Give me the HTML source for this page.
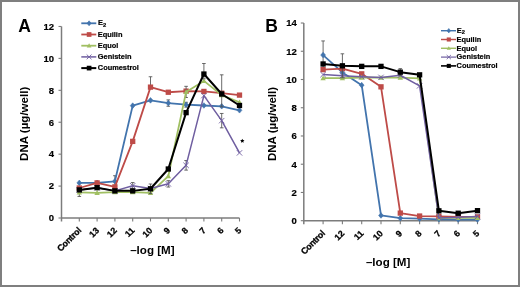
<!DOCTYPE html>
<html><head><meta charset="utf-8"><style>
html,body{margin:0;padding:0;background:#fff;}
body{width:520px;height:287px;overflow:hidden;position:relative;}
.frame{position:absolute;left:0;top:0;width:516px;height:283px;border:2px solid #7f7f7f;}
svg{position:absolute;left:0;top:0;filter:blur(0.3px);}
text{font-family:"Liberation Sans", sans-serif;font-weight:bold;fill:#000;}
.yt{font-size:9.5px;stroke:#000;stroke-width:0.2px;}
.xt{font-size:8.8px;stroke:#000;stroke-width:0.3px;}
.ctl{letter-spacing:-0.2px;}
.lg{font-size:7.4px;stroke:#000;stroke-width:0.2px;}
.pl{font-size:17.5px;}
.ax{font-size:12px;}
</style></head><body>
<div class="frame"></div>
<svg width="520" height="287" viewBox="0 0 520 287">
<text x="18.3" y="31.6" class="pl">A</text>
<text x="265.3" y="32.0" class="pl">B</text>
<text transform="translate(28.1 123.85) rotate(-90)" text-anchor="middle" class="ax" style="font-size:11.55px">DNA (µg/well)</text>
<text transform="translate(276.0 124.0) rotate(-90)" text-anchor="middle" class="ax" style="font-size:11.55px">DNA (µg/well)</text>
<text x="152.4" y="254.2" text-anchor="middle" class="ax" style="font-size:11.6px">–log [M]</text>
<text x="388.1" y="266.2" text-anchor="middle" class="ax" style="font-size:11.6px">–log [M]</text>
<path d="M242.30 138.70L242.95 140.11L244.49 140.29L243.35 141.34L243.65 142.86L242.30 142.10L240.95 142.86L241.25 141.34L240.11 140.29L241.65 140.11Z" fill="#000"/>
<path d="M61.50 26.48L61.50 221.50" stroke="#7c7c7c" stroke-width="1.5" fill="none"/>
<path d="M61.50 218.00L239.50 218.00" stroke="#7c7c7c" stroke-width="1.5" fill="none"/>
<path d="M58.50 218.00L61.50 218.00" stroke="#7c7c7c" stroke-width="1.1"/>
<text x="54.00" y="221.30" text-anchor="end" class="yt">0</text>
<path d="M58.50 186.08L61.50 186.08" stroke="#7c7c7c" stroke-width="1.1"/>
<text x="54.00" y="189.38" text-anchor="end" class="yt">2</text>
<path d="M58.50 154.16L61.50 154.16" stroke="#7c7c7c" stroke-width="1.1"/>
<text x="54.00" y="157.46" text-anchor="end" class="yt">4</text>
<path d="M58.50 122.24L61.50 122.24" stroke="#7c7c7c" stroke-width="1.1"/>
<text x="54.00" y="125.54" text-anchor="end" class="yt">6</text>
<path d="M58.50 90.32L61.50 90.32" stroke="#7c7c7c" stroke-width="1.1"/>
<text x="54.00" y="93.62" text-anchor="end" class="yt">8</text>
<path d="M58.50 58.40L61.50 58.40" stroke="#7c7c7c" stroke-width="1.1"/>
<text x="54.00" y="61.70" text-anchor="end" class="yt">10</text>
<path d="M58.50 26.48L61.50 26.48" stroke="#7c7c7c" stroke-width="1.1"/>
<text x="54.00" y="29.78" text-anchor="end" class="yt">12</text>
<path d="M79.30 218.00L79.30 221.50" stroke="#7c7c7c" stroke-width="1.1"/>
<path d="M97.10 218.00L97.10 221.50" stroke="#7c7c7c" stroke-width="1.1"/>
<path d="M114.90 218.00L114.90 221.50" stroke="#7c7c7c" stroke-width="1.1"/>
<path d="M132.70 218.00L132.70 221.50" stroke="#7c7c7c" stroke-width="1.1"/>
<path d="M150.50 218.00L150.50 221.50" stroke="#7c7c7c" stroke-width="1.1"/>
<path d="M168.30 218.00L168.30 221.50" stroke="#7c7c7c" stroke-width="1.1"/>
<path d="M186.10 218.00L186.10 221.50" stroke="#7c7c7c" stroke-width="1.1"/>
<path d="M203.90 218.00L203.90 221.50" stroke="#7c7c7c" stroke-width="1.1"/>
<path d="M221.70 218.00L221.70 221.50" stroke="#7c7c7c" stroke-width="1.1"/>
<path d="M239.50 218.00L239.50 221.50" stroke="#7c7c7c" stroke-width="1.1"/>
<text transform="translate(81.80 231.00) rotate(-45)" text-anchor="end" class="xt ctl">Control</text>
<text transform="translate(99.60 231.00) rotate(-45)" text-anchor="end" class="xt">13</text>
<text transform="translate(117.40 231.00) rotate(-45)" text-anchor="end" class="xt">12</text>
<text transform="translate(135.20 231.00) rotate(-45)" text-anchor="end" class="xt">11</text>
<text transform="translate(153.00 231.00) rotate(-45)" text-anchor="end" class="xt">10</text>
<text transform="translate(170.80 231.00) rotate(-45)" text-anchor="end" class="xt">9</text>
<text transform="translate(188.60 231.00) rotate(-45)" text-anchor="end" class="xt">8</text>
<text transform="translate(206.40 231.00) rotate(-45)" text-anchor="end" class="xt">7</text>
<text transform="translate(224.20 231.00) rotate(-45)" text-anchor="end" class="xt">6</text>
<text transform="translate(242.00 231.00) rotate(-45)" text-anchor="end" class="xt">5</text>
<path d="M114.90 175.71L114.90 186.88M113.10 175.71L116.70 175.71M113.10 186.88L116.70 186.88" stroke="#505050" stroke-width="0.85" fill="none"/>
<path d="M168.30 99.90L168.30 106.28M166.50 99.90L170.10 99.90M166.50 106.28L170.10 106.28" stroke="#505050" stroke-width="0.85" fill="none"/>
<path d="M186.10 102.29L186.10 107.08M184.30 102.29L187.90 102.29M184.30 107.08L187.90 107.08" stroke="#505050" stroke-width="0.85" fill="none"/>
<path d="M79.30 182.89L97.10 182.89L114.90 181.29L132.70 105.64L150.50 100.37L168.30 103.09L186.10 104.68L203.90 105.48L221.70 106.28L239.50 110.27" stroke="#4274ad" stroke-width="1.8" fill="none" stroke-linejoin="round"/>
<path d="M79.30 180.09L81.70 182.89L79.30 185.69L76.90 182.89Z" fill="#4274ad" stroke="#4274ad" stroke-width="0.6"/>
<path d="M97.10 180.09L99.50 182.89L97.10 185.69L94.70 182.89Z" fill="#4274ad" stroke="#4274ad" stroke-width="0.6"/>
<path d="M114.90 178.49L117.30 181.29L114.90 184.09L112.50 181.29Z" fill="#4274ad" stroke="#4274ad" stroke-width="0.6"/>
<path d="M132.70 102.84L135.10 105.64L132.70 108.44L130.30 105.64Z" fill="#4274ad" stroke="#4274ad" stroke-width="0.6"/>
<path d="M150.50 97.57L152.90 100.37L150.50 103.17L148.10 100.37Z" fill="#4274ad" stroke="#4274ad" stroke-width="0.6"/>
<path d="M168.30 100.29L170.70 103.09L168.30 105.89L165.90 103.09Z" fill="#4274ad" stroke="#4274ad" stroke-width="0.6"/>
<path d="M186.10 101.88L188.50 104.68L186.10 107.48L183.70 104.68Z" fill="#4274ad" stroke="#4274ad" stroke-width="0.6"/>
<path d="M203.90 102.68L206.30 105.48L203.90 108.28L201.50 105.48Z" fill="#4274ad" stroke="#4274ad" stroke-width="0.6"/>
<path d="M221.70 103.48L224.10 106.28L221.70 109.08L219.30 106.28Z" fill="#4274ad" stroke="#4274ad" stroke-width="0.6"/>
<path d="M239.50 107.47L241.90 110.27L239.50 113.07L237.10 110.27Z" fill="#4274ad" stroke="#4274ad" stroke-width="0.6"/>
<path d="M150.50 76.75L150.50 87.13M148.70 76.75L152.30 76.75" stroke="#505050" stroke-width="0.85" fill="none"/>
<path d="M79.30 188.00L97.10 182.89L114.90 186.88L132.70 141.39L150.50 87.13L168.30 92.24L186.10 91.12L203.90 91.44L221.70 93.19L239.50 95.11" stroke="#be4b48" stroke-width="1.8" fill="none" stroke-linejoin="round"/>
<rect x="76.65" y="185.35" width="5.30" height="5.30" fill="#be4b48"/>
<rect x="94.45" y="180.24" width="5.30" height="5.30" fill="#be4b48"/>
<rect x="112.25" y="184.23" width="5.30" height="5.30" fill="#be4b48"/>
<rect x="130.05" y="138.74" width="5.30" height="5.30" fill="#be4b48"/>
<rect x="147.85" y="84.48" width="5.30" height="5.30" fill="#be4b48"/>
<rect x="165.65" y="89.59" width="5.30" height="5.30" fill="#be4b48"/>
<rect x="183.45" y="88.47" width="5.30" height="5.30" fill="#be4b48"/>
<rect x="201.25" y="88.79" width="5.30" height="5.30" fill="#be4b48"/>
<rect x="219.05" y="90.54" width="5.30" height="5.30" fill="#be4b48"/>
<rect x="236.85" y="92.46" width="5.30" height="5.30" fill="#be4b48"/>
<path d="M79.30 188.47L79.30 196.45M77.50 188.47L81.10 188.47M77.50 196.45L81.10 196.45" stroke="#505050" stroke-width="0.85" fill="none"/>
<path d="M186.10 86.33L186.10 97.50M184.30 86.33L187.90 86.33M184.30 97.50L187.90 97.50" stroke="#505050" stroke-width="0.85" fill="none"/>
<path d="M79.30 192.46L97.10 192.78L114.90 192.14L132.70 192.14L150.50 192.94L168.30 176.18L186.10 91.92L203.90 80.90L221.70 95.11L239.50 102.29" stroke="#a0bf62" stroke-width="1.8" fill="none" stroke-linejoin="round"/>
<path d="M79.30 189.76L82.00 194.56L76.60 194.56Z" fill="#a0bf62"/>
<path d="M97.10 190.08L99.80 194.88L94.40 194.88Z" fill="#a0bf62"/>
<path d="M114.90 189.44L117.60 194.24L112.20 194.24Z" fill="#a0bf62"/>
<path d="M132.70 189.44L135.40 194.24L130.00 194.24Z" fill="#a0bf62"/>
<path d="M150.50 190.24L153.20 195.04L147.80 195.04Z" fill="#a0bf62"/>
<path d="M168.30 173.48L171.00 178.28L165.60 178.28Z" fill="#a0bf62"/>
<path d="M186.10 89.22L188.80 94.02L183.40 94.02Z" fill="#a0bf62"/>
<path d="M203.90 78.20L206.60 83.00L201.20 83.00Z" fill="#a0bf62"/>
<path d="M221.70 92.41L224.40 97.21L219.00 97.21Z" fill="#a0bf62"/>
<path d="M239.50 99.59L242.20 104.39L236.80 104.39Z" fill="#a0bf62"/>
<path d="M132.70 182.57L132.70 188.95M130.90 182.57L134.50 182.57M130.90 188.95L134.50 188.95" stroke="#505050" stroke-width="0.85" fill="none"/>
<path d="M168.30 180.65L168.30 187.04M166.50 180.65L170.10 180.65M166.50 187.04L170.10 187.04" stroke="#505050" stroke-width="0.85" fill="none"/>
<path d="M186.10 160.54L186.10 170.12M184.30 160.54L187.90 160.54M184.30 170.12L187.90 170.12" stroke="#505050" stroke-width="0.85" fill="none"/>
<path d="M221.70 113.46L221.70 127.83M219.90 113.46L223.50 113.46M219.90 127.83L223.50 127.83" stroke="#505050" stroke-width="0.85" fill="none"/>
<path d="M79.30 189.91L97.10 187.68L114.90 190.87L132.70 185.76L150.50 188.47L168.30 183.85L186.10 165.33L203.90 95.59L221.70 120.64L239.50 152.88" stroke="#6f5ea0" stroke-width="1.5" fill="none" stroke-linejoin="round"/>
<path d="M76.60 187.21L82.00 192.61M82.00 187.21L76.60 192.61" stroke="#6f5ea0" stroke-width="0.9" fill="none"/>
<path d="M94.40 184.98L99.80 190.38M99.80 184.98L94.40 190.38" stroke="#6f5ea0" stroke-width="0.9" fill="none"/>
<path d="M112.20 188.17L117.60 193.57M117.60 188.17L112.20 193.57" stroke="#6f5ea0" stroke-width="0.9" fill="none"/>
<path d="M130.00 183.06L135.40 188.46M135.40 183.06L130.00 188.46" stroke="#6f5ea0" stroke-width="0.9" fill="none"/>
<path d="M147.80 185.77L153.20 191.17M153.20 185.77L147.80 191.17" stroke="#6f5ea0" stroke-width="0.9" fill="none"/>
<path d="M165.60 181.15L171.00 186.55M171.00 181.15L165.60 186.55" stroke="#6f5ea0" stroke-width="0.9" fill="none"/>
<path d="M183.40 162.63L188.80 168.03M188.80 162.63L183.40 168.03" stroke="#6f5ea0" stroke-width="0.9" fill="none"/>
<path d="M201.20 92.89L206.60 98.29M206.60 92.89L201.20 98.29" stroke="#6f5ea0" stroke-width="0.9" fill="none"/>
<path d="M219.00 117.94L224.40 123.34M224.40 117.94L219.00 123.34" stroke="#6f5ea0" stroke-width="0.9" fill="none"/>
<path d="M236.80 150.18L242.20 155.58M242.20 150.18L236.80 155.58" stroke="#6f5ea0" stroke-width="0.9" fill="none"/>
<path d="M150.50 184.01L150.50 193.58M148.70 184.01L152.30 184.01M148.70 193.58L152.30 193.58" stroke="#505050" stroke-width="0.85" fill="none"/>
<path d="M203.90 63.51L203.90 78.83M202.10 63.51L205.70 63.51M202.10 78.83L205.70 78.83" stroke="#505050" stroke-width="0.85" fill="none"/>
<path d="M221.70 74.84L221.70 106.76M219.90 74.84L223.50 74.84M219.90 106.76L223.50 106.76" stroke="#505050" stroke-width="0.85" fill="none"/>
<path d="M79.30 189.91L97.10 187.68L114.90 190.87L132.70 190.87L150.50 188.79L168.30 169.00L186.10 112.66L203.90 74.04L221.70 93.99L239.50 105.48" stroke="#000000" stroke-width="2.0" fill="none" stroke-linejoin="round"/>
<rect x="76.65" y="187.26" width="5.30" height="5.30" fill="#000000"/>
<rect x="94.45" y="185.03" width="5.30" height="5.30" fill="#000000"/>
<rect x="112.25" y="188.22" width="5.30" height="5.30" fill="#000000"/>
<rect x="130.05" y="188.22" width="5.30" height="5.30" fill="#000000"/>
<rect x="147.85" y="186.14" width="5.30" height="5.30" fill="#000000"/>
<rect x="165.65" y="166.35" width="5.30" height="5.30" fill="#000000"/>
<rect x="183.45" y="110.01" width="5.30" height="5.30" fill="#000000"/>
<rect x="201.25" y="71.39" width="5.30" height="5.30" fill="#000000"/>
<rect x="219.05" y="91.34" width="5.30" height="5.30" fill="#000000"/>
<rect x="236.85" y="102.83" width="5.30" height="5.30" fill="#000000"/>
<path d="M81.30 23.30L96.30 23.30" stroke="#4274ad" stroke-width="1.80"/>
<path d="M89.10 20.80L91.20 23.30L89.10 25.80L87.00 23.30Z" fill="#4274ad" stroke="#4274ad" stroke-width="0.6"/>
<text x="98.00" y="25.40" class="lg">E<tspan font-size="5.8" dy="1.5">2</tspan></text>
<path d="M81.30 34.50L96.30 34.50" stroke="#be4b48" stroke-width="1.80"/>
<rect x="86.75" y="32.15" width="4.70" height="4.70" fill="#be4b48"/>
<text x="97.80" y="36.70" class="lg">Equilin</text>
<path d="M81.30 45.70L96.30 45.70" stroke="#a0bf62" stroke-width="1.80"/>
<path d="M89.10 43.30L91.50 47.50L86.70 47.50Z" fill="#a0bf62"/>
<text x="97.80" y="47.90" class="lg">Equol</text>
<path d="M81.30 56.90L96.30 56.90" stroke="#6f5ea0" stroke-width="1.50"/>
<path d="M86.70 54.50L91.50 59.30M91.50 54.50L86.70 59.30" stroke="#6f5ea0" stroke-width="0.9" fill="none"/>
<text x="97.80" y="59.10" class="lg">Genistein</text>
<path d="M81.30 68.10L96.30 68.10" stroke="#000000" stroke-width="2.00"/>
<rect x="86.75" y="65.75" width="4.70" height="4.70" fill="#000000"/>
<text x="97.80" y="70.30" class="lg">Coumestrol</text>
<path d="M303.80 23.02L303.80 224.20" stroke="#7c7c7c" stroke-width="1.5" fill="none"/>
<path d="M303.80 220.70L477.50 220.70" stroke="#7c7c7c" stroke-width="1.5" fill="none"/>
<path d="M300.80 220.70L303.80 220.70" stroke="#7c7c7c" stroke-width="1.1"/>
<text x="296.80" y="224.00" text-anchor="end" class="yt">0</text>
<path d="M300.80 192.46L303.80 192.46" stroke="#7c7c7c" stroke-width="1.1"/>
<text x="296.80" y="195.76" text-anchor="end" class="yt">2</text>
<path d="M300.80 164.22L303.80 164.22" stroke="#7c7c7c" stroke-width="1.1"/>
<text x="296.80" y="167.52" text-anchor="end" class="yt">4</text>
<path d="M300.80 135.98L303.80 135.98" stroke="#7c7c7c" stroke-width="1.1"/>
<text x="296.80" y="139.28" text-anchor="end" class="yt">6</text>
<path d="M300.80 107.74L303.80 107.74" stroke="#7c7c7c" stroke-width="1.1"/>
<text x="296.80" y="111.04" text-anchor="end" class="yt">8</text>
<path d="M300.80 79.50L303.80 79.50" stroke="#7c7c7c" stroke-width="1.1"/>
<text x="296.80" y="82.80" text-anchor="end" class="yt">10</text>
<path d="M300.80 51.26L303.80 51.26" stroke="#7c7c7c" stroke-width="1.1"/>
<text x="296.80" y="54.56" text-anchor="end" class="yt">12</text>
<path d="M300.80 23.02L303.80 23.02" stroke="#7c7c7c" stroke-width="1.1"/>
<text x="296.80" y="26.32" text-anchor="end" class="yt">14</text>
<path d="M323.10 220.70L323.10 224.20" stroke="#7c7c7c" stroke-width="1.1"/>
<path d="M342.40 220.70L342.40 224.20" stroke="#7c7c7c" stroke-width="1.1"/>
<path d="M361.70 220.70L361.70 224.20" stroke="#7c7c7c" stroke-width="1.1"/>
<path d="M381.00 220.70L381.00 224.20" stroke="#7c7c7c" stroke-width="1.1"/>
<path d="M400.30 220.70L400.30 224.20" stroke="#7c7c7c" stroke-width="1.1"/>
<path d="M419.60 220.70L419.60 224.20" stroke="#7c7c7c" stroke-width="1.1"/>
<path d="M438.90 220.70L438.90 224.20" stroke="#7c7c7c" stroke-width="1.1"/>
<path d="M458.20 220.70L458.20 224.20" stroke="#7c7c7c" stroke-width="1.1"/>
<path d="M477.50 220.70L477.50 224.20" stroke="#7c7c7c" stroke-width="1.1"/>
<text transform="translate(325.60 234.00) rotate(-45)" text-anchor="end" class="xt ctl">Control</text>
<text transform="translate(344.90 234.00) rotate(-45)" text-anchor="end" class="xt">12</text>
<text transform="translate(364.20 234.00) rotate(-45)" text-anchor="end" class="xt">11</text>
<text transform="translate(383.50 234.00) rotate(-45)" text-anchor="end" class="xt">10</text>
<text transform="translate(402.80 234.00) rotate(-45)" text-anchor="end" class="xt">9</text>
<text transform="translate(422.10 234.00) rotate(-45)" text-anchor="end" class="xt">8</text>
<text transform="translate(441.40 234.00) rotate(-45)" text-anchor="end" class="xt">7</text>
<text transform="translate(460.70 234.00) rotate(-45)" text-anchor="end" class="xt">6</text>
<text transform="translate(480.00 234.00) rotate(-45)" text-anchor="end" class="xt">5</text>
<path d="M323.10 40.95L323.10 69.19M321.30 40.95L324.90 40.95M321.30 69.19L324.90 69.19" stroke="#505050" stroke-width="0.85" fill="none"/>
<path d="M323.10 55.07L342.40 72.44L361.70 85.15L381.00 215.48L400.30 218.16L419.60 218.58L438.90 219.29L458.20 219.57L477.50 219.57" stroke="#4274ad" stroke-width="1.8" fill="none" stroke-linejoin="round"/>
<path d="M323.10 52.27L325.50 55.07L323.10 57.87L320.70 55.07Z" fill="#4274ad" stroke="#4274ad" stroke-width="0.6"/>
<path d="M342.40 69.64L344.80 72.44L342.40 75.24L340.00 72.44Z" fill="#4274ad" stroke="#4274ad" stroke-width="0.6"/>
<path d="M361.70 82.35L364.10 85.15L361.70 87.95L359.30 85.15Z" fill="#4274ad" stroke="#4274ad" stroke-width="0.6"/>
<path d="M381.00 212.68L383.40 215.48L381.00 218.28L378.60 215.48Z" fill="#4274ad" stroke="#4274ad" stroke-width="0.6"/>
<path d="M400.30 215.36L402.70 218.16L400.30 220.96L397.90 218.16Z" fill="#4274ad" stroke="#4274ad" stroke-width="0.6"/>
<path d="M419.60 215.78L422.00 218.58L419.60 221.38L417.20 218.58Z" fill="#4274ad" stroke="#4274ad" stroke-width="0.6"/>
<path d="M438.90 216.49L441.30 219.29L438.90 222.09L436.50 219.29Z" fill="#4274ad" stroke="#4274ad" stroke-width="0.6"/>
<path d="M458.20 216.77L460.60 219.57L458.20 222.37L455.80 219.57Z" fill="#4274ad" stroke="#4274ad" stroke-width="0.6"/>
<path d="M477.50 216.77L479.90 219.57L477.50 222.37L475.10 219.57Z" fill="#4274ad" stroke="#4274ad" stroke-width="0.6"/>
<path d="M323.10 69.62L342.40 68.63L361.70 73.85L381.00 86.84L400.30 213.08L419.60 216.04L438.90 216.46L458.20 216.89L477.50 216.89" stroke="#be4b48" stroke-width="1.8" fill="none" stroke-linejoin="round"/>
<rect x="320.45" y="66.97" width="5.30" height="5.30" fill="#be4b48"/>
<rect x="339.75" y="65.98" width="5.30" height="5.30" fill="#be4b48"/>
<rect x="359.05" y="71.20" width="5.30" height="5.30" fill="#be4b48"/>
<rect x="378.35" y="84.19" width="5.30" height="5.30" fill="#be4b48"/>
<rect x="397.65" y="210.43" width="5.30" height="5.30" fill="#be4b48"/>
<rect x="416.95" y="213.39" width="5.30" height="5.30" fill="#be4b48"/>
<rect x="436.25" y="213.81" width="5.30" height="5.30" fill="#be4b48"/>
<rect x="455.55" y="214.24" width="5.30" height="5.30" fill="#be4b48"/>
<rect x="474.85" y="214.24" width="5.30" height="5.30" fill="#be4b48"/>
<path d="M323.10 78.09L342.40 78.09L361.70 77.66L381.00 77.66L400.30 77.66L419.60 78.37L438.90 218.16L458.20 217.88L477.50 217.88" stroke="#a0bf62" stroke-width="1.8" fill="none" stroke-linejoin="round"/>
<path d="M323.10 75.39L325.80 80.19L320.40 80.19Z" fill="#a0bf62"/>
<path d="M342.40 75.39L345.10 80.19L339.70 80.19Z" fill="#a0bf62"/>
<path d="M361.70 74.96L364.40 79.76L359.00 79.76Z" fill="#a0bf62"/>
<path d="M381.00 74.96L383.70 79.76L378.30 79.76Z" fill="#a0bf62"/>
<path d="M400.30 74.96L403.00 79.76L397.60 79.76Z" fill="#a0bf62"/>
<path d="M419.60 75.67L422.30 80.47L416.90 80.47Z" fill="#a0bf62"/>
<path d="M438.90 215.46L441.60 220.26L436.20 220.26Z" fill="#a0bf62"/>
<path d="M458.20 215.18L460.90 219.98L455.50 219.98Z" fill="#a0bf62"/>
<path d="M477.50 215.18L480.20 219.98L474.80 219.98Z" fill="#a0bf62"/>
<path d="M323.10 74.56L342.40 75.69L361.70 76.68L381.00 77.38L400.30 75.26L419.60 85.85L438.90 217.88L458.20 217.17L477.50 216.46" stroke="#6f5ea0" stroke-width="1.5" fill="none" stroke-linejoin="round"/>
<path d="M320.40 71.86L325.80 77.26M325.80 71.86L320.40 77.26" stroke="#6f5ea0" stroke-width="0.9" fill="none"/>
<path d="M339.70 72.99L345.10 78.39M345.10 72.99L339.70 78.39" stroke="#6f5ea0" stroke-width="0.9" fill="none"/>
<path d="M359.00 73.98L364.40 79.38M364.40 73.98L359.00 79.38" stroke="#6f5ea0" stroke-width="0.9" fill="none"/>
<path d="M378.30 74.68L383.70 80.08M383.70 74.68L378.30 80.08" stroke="#6f5ea0" stroke-width="0.9" fill="none"/>
<path d="M397.60 72.56L403.00 77.96M403.00 72.56L397.60 77.96" stroke="#6f5ea0" stroke-width="0.9" fill="none"/>
<path d="M416.90 83.15L422.30 88.55M422.30 83.15L416.90 88.55" stroke="#6f5ea0" stroke-width="0.9" fill="none"/>
<path d="M436.20 215.18L441.60 220.58M441.60 215.18L436.20 220.58" stroke="#6f5ea0" stroke-width="0.9" fill="none"/>
<path d="M455.50 214.47L460.90 219.87M460.90 214.47L455.50 219.87" stroke="#6f5ea0" stroke-width="0.9" fill="none"/>
<path d="M474.80 213.76L480.20 219.16M480.20 213.76L474.80 219.16" stroke="#6f5ea0" stroke-width="0.9" fill="none"/>
<path d="M342.40 53.80L342.40 77.81M340.60 53.80L344.20 53.80M340.60 77.81L344.20 77.81" stroke="#505050" stroke-width="0.85" fill="none"/>
<path d="M400.30 68.63L400.30 75.69M398.50 68.63L402.10 68.63M398.50 75.69L402.10 75.69" stroke="#505050" stroke-width="0.85" fill="none"/>
<path d="M323.10 63.97L342.40 65.80L361.70 66.37L381.00 66.37L400.30 72.16L419.60 74.84L438.90 210.82L458.20 213.22L477.50 210.67" stroke="#000000" stroke-width="2.0" fill="none" stroke-linejoin="round"/>
<rect x="320.45" y="61.32" width="5.30" height="5.30" fill="#000000"/>
<rect x="339.75" y="63.15" width="5.30" height="5.30" fill="#000000"/>
<rect x="359.05" y="63.72" width="5.30" height="5.30" fill="#000000"/>
<rect x="378.35" y="63.72" width="5.30" height="5.30" fill="#000000"/>
<rect x="397.65" y="69.51" width="5.30" height="5.30" fill="#000000"/>
<rect x="416.95" y="72.19" width="5.30" height="5.30" fill="#000000"/>
<rect x="436.25" y="208.17" width="5.30" height="5.30" fill="#000000"/>
<rect x="455.55" y="210.57" width="5.30" height="5.30" fill="#000000"/>
<rect x="474.85" y="208.02" width="5.30" height="5.30" fill="#000000"/>
<path d="M441.00 30.70L456.00 30.70" stroke="#4274ad" stroke-width="1.44"/>
<path d="M448.80 28.50L450.60 30.70L448.80 32.90L447.00 30.70Z" fill="#4274ad" stroke="#4274ad" stroke-width="0.6"/>
<text x="456.80" y="32.80" class="lg">E<tspan font-size="5.8" dy="1.5">2</tspan></text>
<path d="M441.00 39.50L456.00 39.50" stroke="#be4b48" stroke-width="1.44"/>
<rect x="446.75" y="37.45" width="4.10" height="4.10" fill="#be4b48"/>
<text x="456.60" y="41.70" class="lg">Equilin</text>
<path d="M441.00 48.30L456.00 48.30" stroke="#a0bf62" stroke-width="1.44"/>
<path d="M448.80 46.20L450.90 49.80L446.70 49.80Z" fill="#a0bf62"/>
<text x="456.60" y="50.50" class="lg">Equol</text>
<path d="M441.00 57.10L456.00 57.10" stroke="#6f5ea0" stroke-width="1.20"/>
<path d="M446.70 55.00L450.90 59.20M450.90 55.00L446.70 59.20" stroke="#6f5ea0" stroke-width="0.9" fill="none"/>
<text x="456.60" y="59.30" class="lg">Genistein</text>
<path d="M441.00 65.90L456.00 65.90" stroke="#000000" stroke-width="1.60"/>
<rect x="446.75" y="63.85" width="4.10" height="4.10" fill="#000000"/>
<text x="456.60" y="68.10" class="lg">Coumestrol</text>
</svg>
</body></html>
